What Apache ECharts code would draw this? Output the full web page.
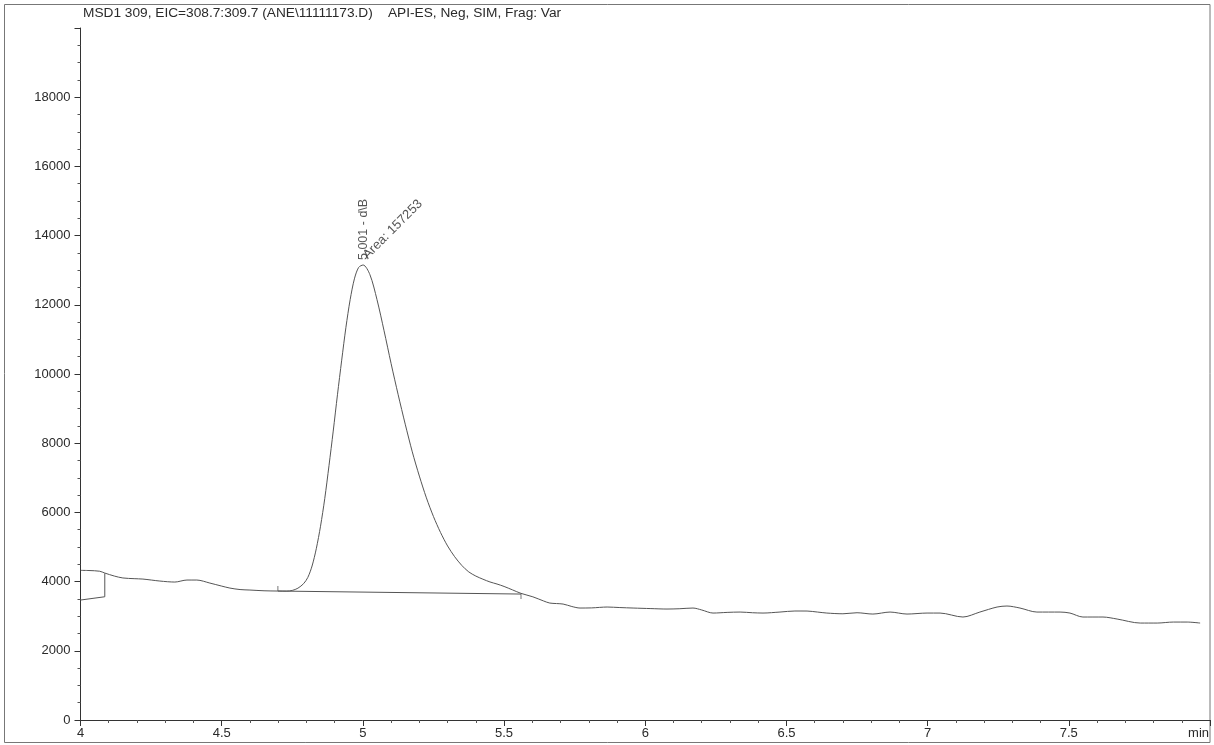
<!DOCTYPE html>
<html>
<head>
<meta charset="utf-8">
<script src="https://cdn.jsdelivr.net/npm/echarts@6/dist/echarts.min.js"></script>
<style>
  html, body { margin: 0; padding: 0; background: #fff; }
  #chart { width: 1214px; height: 745px; }
</style>
</head>
<body>
<div id="chart"></div>
<script>
// Extracted ion chromatogram, m/z 308.7-309.7 (retention time in min, abundance)
const retentionTimes = [
  4.001, 4.030, 4.068, 4.086, 4.120, 4.150, 4.190, 4.221, 4.281, 4.334, 4.377, 4.412,
  4.458, 4.500, 4.529, 4.565, 4.600, 4.650, 4.699, 4.730, 4.750, 4.770, 4.790, 4.805,
  4.820, 4.835, 4.850, 4.865, 4.880, 4.895, 4.910, 4.925, 4.940, 4.955, 4.970, 4.985,
  5.001, 5.025, 5.050, 5.075, 5.100, 5.125, 5.150, 5.175, 5.200, 5.225, 5.250, 5.275,
  5.300, 5.325, 5.350, 5.375, 5.400, 5.425, 5.450, 5.475, 5.500, 5.530, 5.560, 5.602,
  5.640, 5.662, 5.709, 5.740, 5.769, 5.810, 5.865, 5.910, 5.957, 6.020, 6.077, 6.120,
  6.169, 6.200, 6.240, 6.290, 6.336, 6.380, 6.417, 6.477, 6.530, 6.573, 6.610, 6.643,
  6.700, 6.750, 6.806, 6.867, 6.927, 6.998, 7.044, 7.125, 7.185, 7.246, 7.281, 7.327,
  7.387, 7.469, 7.504, 7.550, 7.621, 7.671, 7.753, 7.813, 7.870, 7.919, 7.965
];
const abundance = [
  4325, 4320, 4300, 4247, 4160, 4105, 4085, 4073, 4016, 3987, 4045, 4045,
  3958, 3870, 3813, 3770, 3756, 3735, 3727, 3725, 3745, 3810, 3940, 4120,
  4450, 4950, 5600, 6400, 7350, 8350, 9400, 10400, 11350, 12150, 12750, 13080,
  13150, 12870, 12150, 11250, 10300, 9400, 8550, 7750, 7050, 6420, 5880, 5420,
  5030, 4720, 4470, 4280, 4160, 4070, 3990, 3930, 3860, 3760, 3660, 3560,
  3440, 3380, 3351, 3280, 3236, 3240, 3265, 3250, 3236, 3220, 3207, 3215,
  3236, 3180, 3091, 3110, 3120, 3100, 3091, 3120, 3150, 3149, 3120, 3091,
  3070, 3100, 3062, 3120, 3062, 3091, 3091, 2976, 3120, 3265, 3294, 3236,
  3120, 3120, 3091, 2976, 2976, 2918, 2802, 2802, 2831, 2831, 2802
];

// Integration baseline of the 5.001 min peak
const baselineTimes = [4.699, 5.560];
const baselineValues = [3727, 3640];

// Drop line / baseline left over from the preceding peak
const priorPeakTimes = [4.000, 4.086, 4.086];
const priorPeakValues = [3467, 3562, 4238];

// Peak annotation
const peakTime = 5.001;
const peakArea = 157253;
const peakType = 'd\\B';

// Axis ticks
const xTicks = { min: 4, max: 8, step: 0.5 };
const yTicks = { min: 0, max: 20000, step: 2000 };

const titleText = 'MSD1 309, EIC=308.7:309.7 (ANE\\11111173.D)    API-ES, Neg, SIM, Frag: Var';

const font = '"Liberation Sans", Arial, sans-serif';
const ink = '#2a2a2a';
const traceColor = '#555';

const peakHeight = abundance[retentionTimes.indexOf(peakTime)];

const trace = retentionTimes.map((t, i) => [t, abundance[i]]);
const baseline = baselineTimes.map((t, i) => [t, baselineValues[i]]);
const priorPeak = priorPeakTimes.map((t, i) => [t, priorPeakValues[i]]);

const chart = echarts.init(document.getElementById('chart'), null, { renderer: 'canvas' });

chart.setOption({
  animation: false,
  backgroundColor: '#fff',
  textStyle: { fontFamily: font },
  graphic: [
    {
      type: 'rect',
      silent: true,
      shape: { x: 4.5, y: 4.5, width: 1205.5, height: 738 },
      style: { fill: 'none', stroke: '#777', lineWidth: 1 }
    },
    {
      type: 'text',
      silent: true,
      left: 83,
      top: 6,
      style: { text: titleText, fontFamily: font, fontSize: 13.7, fill: ink }
    }
  ],
  grid: { left: 80.5, right: 4, top: 28, bottom: 25, containLabel: false },
  xAxis: {
    type: 'value',
    min: xTicks.min,
    max: xTicks.max,
    interval: xTicks.step,
    name: 'min',
    nameLocation: 'end',
    nameGap: 0,
    nameTextStyle: {
      fontFamily: font, fontSize: 13, color: ink,
      align: 'right', verticalAlign: 'top', padding: [7, 1, 0, 0]
    },
    axisLine: { show: true, onZero: false, lineStyle: { color: '#333', width: 1 } },
    axisTick: { show: true, inside: false, length: 6, lineStyle: { color: '#333' } },
    minorTick: { show: true, splitNumber: 5, length: 3, lineStyle: { color: '#555' } },
    axisLabel: { showMaxLabel: false, margin: 7, fontSize: 13, color: ink, fontFamily: font },
    splitLine: { show: false }
  },
  yAxis: {
    type: 'value',
    min: yTicks.min,
    max: yTicks.max,
    interval: yTicks.step,
    axisLine: { show: true, lineStyle: { color: '#333', width: 1 } },
    axisTick: { show: true, inside: false, length: 6, lineStyle: { color: '#333' } },
    minorTick: { show: true, splitNumber: 4, length: 3, lineStyle: { color: '#555' } },
    axisLabel: {
      showMaxLabel: false, margin: 10, fontSize: 13, color: ink, fontFamily: font,
      formatter: (v) => String(v)
    },
    splitLine: { show: false }
  },
  series: [
    {
      type: 'line',
      data: trace,
      smooth: 0.3,
      showSymbol: false,
      silent: true,
      lineStyle: { color: traceColor, width: 1 }
    },
    {
      type: 'line',
      data: baseline,
      showSymbol: false,
      silent: true,
      lineStyle: { color: traceColor, width: 1 }
    },
    {
      type: 'line',
      data: priorPeak,
      showSymbol: false,
      silent: true,
      lineStyle: { color: traceColor, width: 1 }
    },
    {
      // start / end markers of the integration baseline
      type: 'scatter',
      silent: true,
      symbol: 'rect',
      symbolSize: [1, 5],
      itemStyle: { color: traceColor },
      data: [
        { value: baseline[0], symbolOffset: [0, -2.5] },
        { value: baseline[1], symbolOffset: [0, 2.5] }
      ]
    },
    {
      // peak annotations
      type: 'scatter',
      silent: true,
      symbolSize: 0,
      data: [
        {
          value: [peakTime, peakHeight],
          label: {
            show: true,
            formatter: peakTime.toFixed(3) + ' - ' + peakType,
            position: [0, -5],
            rotate: 90,
            align: 'left',
            verticalAlign: 'middle',
            fontSize: 12.5,
            fontFamily: font,
            color: ink
          }
        },
        {
          value: [peakTime, peakHeight],
          label: {
            show: true,
            formatter: 'Area: ' + peakArea,
            position: [2, -8],
            rotate: 45,
            align: 'left',
            verticalAlign: 'middle',
            fontSize: 13,
            fontFamily: font,
            color: ink
          }
        }
      ]
    }
  ]
});
</script>
</body>
</html>
